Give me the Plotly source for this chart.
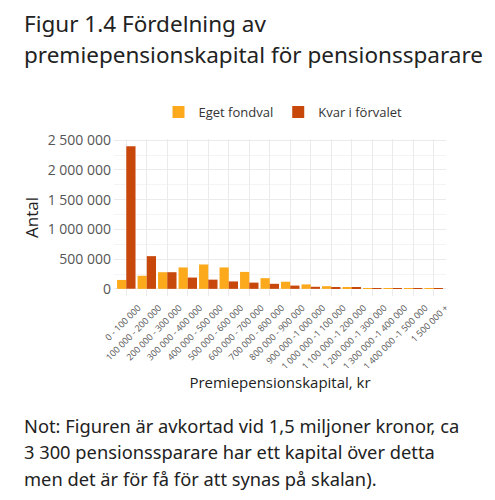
import plotly.graph_objects as go

categories = [
    '0 - 100 000', '100 000 - 200 000', '200 000 - 300 000', '300 000 - 400 000',
    '400 000 - 500 000', '500 000 - 600 000', '600 000 - 700 000', '700 000 - 800 000',
    '800 000 - 900 000', '900 000 -1 000 000', '1 000 000 -1 100 000',
    '1 100 000 -1 200 000', '1 200 000 -1 300 000', '1 300 000 -1 400 000',
    '1 400 000 -1 500 000', '1 500 000 +',
]
eget_fondval = [150000, 220000, 280000, 360000, 410000, 360000, 285000, 180000,
                120000, 75000, 45000, 30000, 12000, 8000, 5000, 3000]
kvar_i_forvalet = [2400000, 550000, 280000, 190000, 155000, 125000, 105000, 85000,
                   55000, 35000, 25000, 20000, 6000, 4000, 2000, 1000]

title_lines = ['Figur 1.4 Fördelning av', 'premiepensionskapital för pensionssparare']
note_lines = [
    'Not: Figuren är avkortad vid 1,5 miljoner kronor, ca',
    '3 300 pensionssparare har ett kapital över detta',
    'men det är för få för att synas på skalan).',
]

font = 'Open Sans'
# the page body has an 8px margin, so the figure is drawn 8px in
OFF = 8
W, H = 495 - OFF, 500 - OFF
L, T = 114 - OFF, 139 - OFF
PW, PH = 332, 157
R, B = W - L - PW, H - T - PH

fig = go.Figure()
fig.add_trace(go.Bar(x=categories, y=eget_fondval, name='Eget fondval',
                     marker=dict(color='#FCA91B', line=dict(width=0))))
fig.add_trace(go.Bar(x=categories, y=kvar_i_forvalet, name='Kvar i förvalet',
                     marker=dict(color='#C8470A', line=dict(width=0))))


def px_x(x):
    # page pixel -> paper x
    return (x - OFF - L) / PW


def px_y(y):
    # page pixel -> paper y
    return (T + PH - (y - OFF)) / PH


annotations = []
for i, line in enumerate(title_lines):
    annotations.append(dict(
        text=line, xref='paper', yref='paper', x=px_x(22), y=px_y(24 + i * 31),
        xanchor='left', yanchor='middle', showarrow=False,
        font=dict(family='Noto Sans', size=22.5, color='#222')))
for i, line in enumerate(note_lines):
    annotations.append(dict(
        text=line, xref='paper', yref='paper', x=px_x(22), y=px_y(425 + i * 26.5),
        xanchor='left', yanchor='middle', showarrow=False,
        font=dict(family='Noto Sans', size=18.3, color='#222')))

fig.update_layout(
    width=W, height=H,
    margin=dict(l=L, r=R, t=T, b=B),
    paper_bgcolor='white', plot_bgcolor='white',
    separators=', ',
    bargap=0.1, bargroupgap=0,
    font=dict(family=font, color='#4d4d4d'),
    legend=dict(orientation='h', x=px_x(283), xanchor='center', y=px_y(112),
                yanchor='middle', font=dict(size=13, color='#333'),
                traceorder='normal'),
    xaxis=dict(
        tickangle=-45, tickfont=dict(size=9, color='#555'),
        ticklabelshift=12, ticklabelstandoff=4,
        showgrid=True, gridcolor='#ebebeb', gridwidth=1,
        showline=False, ticks='', automargin=False,
        range=[-0.6, 15.6],
        title=dict(text='Premiepensionskapital, kr', font=dict(size=15, color='#222'),
                   standoff=5),
    ),
    yaxis=dict(
        range=[-120000, 2520000],
        tickvals=[0, 500000, 1000000, 1500000, 2000000, 2500000],
        tickformat=',d',
        tickfont=dict(size=14, color='#555'),
        showgrid=True, gridcolor='#ebebeb', gridwidth=1,
        minor=dict(dtick=250000, tick0=0, showgrid=True, gridcolor='#f4f4f4', gridwidth=1),
        zeroline=False, showline=False, ticks='', automargin=False,
        ticklabelstandoff=2,
        title=dict(text='Antal', font=dict(size=17, color='#222'), standoff=4),
    ),
    annotations=annotations,
)

fig.write_html('out.html')
